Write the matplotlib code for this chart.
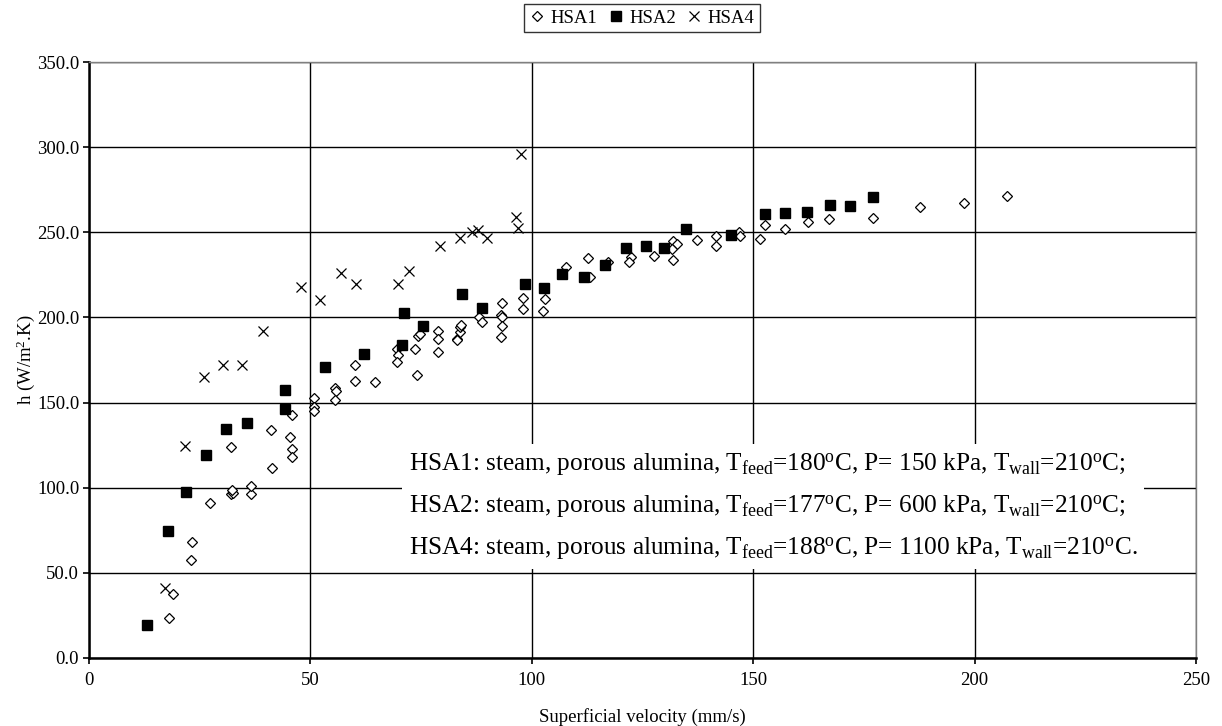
"""
Heat transfer coefficient vs superficial velocity for steam through porous alumina
(runs HSA1, HSA2, HSA4).
"""
import matplotlib

matplotlib.use("Agg")
import matplotlib.pyplot as plt

plt.rcParams.update(
    {
        "font.family": "serif",
        "font.serif": ["Liberation Serif", "DejaVu Serif"],
        "mathtext.fontset": "custom",
        "mathtext.rm": "Liberation Serif",
        "mathtext.it": "Liberation Serif:italic",
        "mathtext.bf": "Liberation Serif:bold",
    }
)

# HSA1 (open diamonds)
hsa1_v = [18.1, 19.0, 23.0, 23.2, 27.3, 32.1, 32.5, 32.2, 36.6, 36.5, 32.1, 41.1, 41.4,
          45.4, 45.9, 45.9, 45.9, 50.8, 50.8, 50.8, 55.5, 55.8, 55.5, 60.1, 60.0, 64.6,
          69.5, 69.9, 69.5, 73.7, 74.0, 74.4, 74.8, 78.9, 78.9, 78.9, 83.1, 83.1, 83.7,
          83.7, 84.0, 88.1, 88.8, 93.3, 93.1, 93.2, 93.3, 93.0, 98.0, 98.0, 102.9, 102.5,
          107.8, 112.7, 113.1, 117.3, 122.3, 121.9, 127.6, 131.8, 132.7, 131.7, 131.9,
          137.4, 141.5, 141.5, 146.9, 147.1, 151.5, 152.6, 157.2, 162.4, 167.2, 177.1,
          187.6, 197.7, 207.4]
hsa1_h = [23.3, 37.4, 57.5, 67.9, 91.2, 96.3, 97.0, 98.6, 96.3, 101.0, 124.0, 133.9, 111.8,
          129.6, 122.7, 117.8, 142.7, 152.5, 147.6, 145.0, 158.5, 156.6, 151.5, 172.0, 162.8,
          162.2, 181.6, 178.0, 174.0, 181.6, 166.2, 189.3, 190.5, 192.0, 187.3, 179.5, 187.6,
          186.5, 191.4, 194.4, 195.5, 200.4, 197.1, 208.5, 201.7, 200.0, 195.1, 188.5, 211.6,
          204.8, 210.7, 203.9, 229.4, 234.7, 223.6, 232.3, 235.6, 232.5, 236.0, 244.7, 243.1,
          240.2, 233.5, 245.6, 247.8, 242.1, 250.0, 248.0, 246.1, 254.1, 252.1, 256.2, 257.8,
          258.5, 264.6, 267.2, 271.3]

# HSA2 (filled squares)
hsa2_v = [13.0, 17.8, 21.9, 26.4, 30.9, 35.6, 44.2, 44.2, 53.3, 62.1, 70.8, 71.2, 75.5,
          84.3, 88.8, 98.5, 102.7, 106.8, 111.8, 116.5, 121.3, 125.9, 129.9, 134.8, 145.1,
          152.6, 157.3, 162.1, 167.3, 171.9, 177.0]
hsa2_h = [19.4, 74.8, 97.7, 119.2, 134.3, 138.2, 157.4, 146.0, 170.7, 178.5, 183.8, 202.4,
          195.1, 213.6, 205.3, 219.5, 217.1, 225.7, 223.6, 230.8, 240.6, 241.8, 240.6, 251.7,
          248.4, 260.5, 261.3, 261.9, 266.2, 265.6, 270.7]

# HSA4 (crosses)
hsa4_v = [17.2, 21.7, 26.0, 30.3, 34.5, 39.2, 47.9, 52.2, 56.9, 60.4, 69.8, 72.3, 79.2,
          83.7, 86.6, 87.9, 89.8, 96.4, 97.0, 97.5]
hsa4_h = [40.9, 124.7, 164.8, 172.2, 171.9, 192.2, 217.8, 210.5, 226.3, 219.5, 219.5, 227.2,
          241.9, 246.4, 250.0, 251.3, 246.4, 258.9, 252.5, 295.8]

x_ticks = [0, 50, 100, 150, 200, 250]
y_ticks = [0, 50, 100, 150, 200, 250, 300, 350]

conditions = [
    ("HSA1", "180", "150", ";"),
    ("HSA2", "177", "600", ";"),
    ("HSA4", "188", "1100", "."),
]

fig = plt.figure(figsize=(12.22, 7.26), dpi=100)
ax = fig.add_axes([0.0728, 0.0937, 0.9059, 0.8209])

ax.plot(hsa1_v, hsa1_h, linestyle="none", marker="D", markersize=4.6,
        markerfacecolor="white", markeredgecolor="black", markeredgewidth=0.9,
        label="HSA1", zorder=3)
ax.plot(hsa2_v, hsa2_h, linestyle="none", marker="s", markersize=6.5,
        markerfacecolor="black", markeredgecolor="black", label="HSA2", zorder=3)
ax.plot(hsa4_v, hsa4_h, linestyle="none", marker="x", markersize=6.5,
        markeredgecolor="black", markeredgewidth=0.9, label="HSA4", zorder=3)

ax.set_xlim(x_ticks[0], x_ticks[-1])
ax.set_ylim(y_ticks[0], y_ticks[-1])
ax.set_xticks(x_ticks)
ax.set_yticks(y_ticks)
ax.set_yticklabels([f"{t:.1f}" for t in y_ticks])
ax.tick_params(axis="both", direction="out", length=4, width=1.2, labelsize=13.5,
               colors="black")
ax.tick_params(axis="x", pad=6)
ax.tick_params(axis="y", pad=3)
ax.grid(True, color="black", linewidth=1.0)
ax.set_axisbelow(True)

for side in ("left", "bottom"):
    ax.spines[side].set_linewidth(1.8)
    ax.spines[side].set_color("black")
for side in ("top", "right"):
    ax.spines[side].set_linewidth(1.0)
    ax.spines[side].set_color("#808080")

ax.set_xlabel("Superficial velocity (mm/s)", fontsize=13.5, labelpad=14)
ax.set_ylabel("h (W/m$^{2}$.K)", fontsize=13.5, labelpad=0)

lines = [
    f"{run}: steam, porous alumina, T$_{{\\rm feed}}$={tf}$^{{\\rm o}}$C, P= {p} kPa, "
    f"T$_{{\\rm wall}}$=210$^{{\\rm o}}$C{end}"
    for run, tf, p, end in conditions
]
ax.text(0.289, 0.254, "\n".join(lines), transform=ax.transAxes, ha="left",
        va="center", fontsize=18.2, linespacing=1.8, zorder=4,
        bbox=dict(facecolor="white", edgecolor="none", pad=5))

leg = fig.legend(loc="center", bbox_to_anchor=(0.5254, 0.975), ncol=3, fontsize=13.5,
                 frameon=True, fancybox=False, edgecolor="black", handlelength=0.8,
                 handletextpad=0.3, columnspacing=0.6, borderpad=0.3,
                 borderaxespad=0.0, markerscale=1.0)
leg.get_frame().set_linewidth(1.0)

fig.savefig("out.png", dpi=100, facecolor="white")
